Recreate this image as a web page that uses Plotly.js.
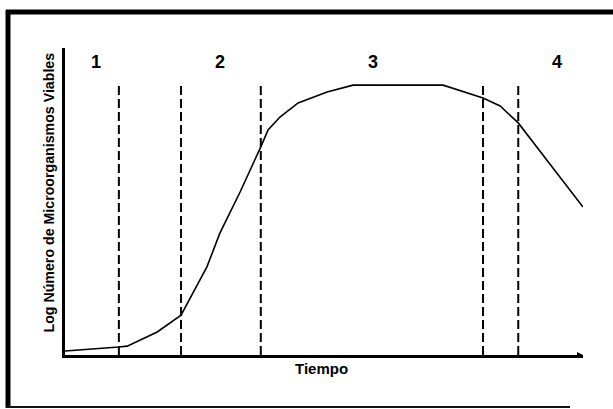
<!DOCTYPE html>
<html>
<head>
<meta charset="utf-8">
<script src="https://cdn.plot.ly/plotly-3.0.1.min.js"></script>
<style>html,body{margin:0;padding:0;background:#fff;}#chart{width:613px;height:409px;}</style>
</head>
<body>
<div id="chart"></div>
<script>
// Growth curve (arbitrary time / log count units)
const timeValues = [0, 0.68, 1.04, 1.20, 1.78, 2.24, 2.47, 2.74, 2.99, 3.38, 3.78, 3.92, 4.15, 4.50, 5.06, 5.56, 7.30, 8.07, 8.40, 8.75, 9.36, 10.0];
const logCounts  = [0.13, 0.20, 0.26, 0.29, 0.75, 1.30, 2.02, 2.87, 3.97, 5.31, 6.78, 7.33, 7.75, 8.21, 8.57, 8.79, 8.79, 8.37, 8.11, 7.56, 6.22, 4.82];
// Phase boundaries (dashed lines)
const phaseBounds = [1.04, 2.24, 3.78, 8.07, 8.75];
const boundTop = 8.76;
// Phase labels
const phaseLabels = ["1", "2", "3", "4"];
const phaseLabelX = [0.60, 2.99, 5.95, 9.50];
const phaseLabelY = 9.54;
const xTitle = "Tiempo";
const yTitle = "Log Número de Microorganismos Viables";

const FONT = "Arial, 'Liberation Sans', sans-serif";

const traces = [];
phaseBounds.forEach(b => {
  traces.push({x: [b, b], y: [0, boundTop], mode: 'lines', type: 'scatter',
    line: {color: '#000', width: 2, dash: '9px,4px'}, hoverinfo: 'skip', showlegend: false});
});
traces.push({x: timeValues, y: logCounts, mode: 'lines', type: 'scatter',
  line: {color: '#000', width: 1.6}, showlegend: false});

const annotations = phaseLabels.map((t, i) => ({
  x: phaseLabelX[i], y: phaseLabelY, xref: 'x', yref: 'y', text: '<b>' + t + '</b>',
  xanchor: 'center', yanchor: 'middle',
  showarrow: false, font: {family: FONT, size: 18, color: '#000'}
}));
annotations.push({x: (321 - 65) / 518, y: (355 - 368) / 307, xref: 'paper', yref: 'paper',
  xanchor: 'center', yanchor: 'middle',
  text: '<b>' + xTitle + '</b>', showarrow: false, font: {family: FONT, size: 15, color: '#000'}});
annotations.push({x: (48 - 65) / 518, y: (355 - 192.5) / 307, xref: 'paper', yref: 'paper',
  xanchor: 'center', yanchor: 'middle',
  text: '<b>' + yTitle + '</b>', textangle: -90, showarrow: false, font: {family: FONT, size: 14.2, color: '#000'}});
// small arrowhead at the end of the time axis
annotations.push({x: 1.0, y: 0, xref: 'paper', yref: 'paper', ax: -6, ay: 0, axref: 'pixel', ayref: 'pixel',
  text: '', showarrow: true, arrowhead: 2, arrowsize: 0.6, arrowwidth: 2, arrowcolor: '#000'});

const px = v => (v - 65) / 518;
const py = v => (355 - v) / 307;
const shapes = [
  {type: 'line', xref: 'paper', yref: 'paper', x0: px(8), x1: px(8), y0: py(10), y1: py(408), line: {color: '#000', width: 5}},
  {type: 'line', xref: 'paper', yref: 'paper', x0: px(6), x1: px(620), y0: py(12), y1: py(12), line: {color: '#000', width: 5}},
  {type: 'line', xref: 'paper', yref: 'paper', x0: px(6), x1: px(570), y0: py(407), y1: py(407), line: {color: '#111', width: 2}}
];

const layout = {
  width: 613, height: 409,
  margin: {l: 65, r: 30, t: 48, b: 54},
  paper_bgcolor: '#fff', plot_bgcolor: '#fff',
  xaxis: {range: [0, 10], showgrid: false, zeroline: false, showticklabels: false, ticks: '',
    showline: true, linecolor: '#000', linewidth: 3, fixedrange: true},
  yaxis: {range: [0, 10], showgrid: false, zeroline: false, showticklabels: false, ticks: '',
    showline: true, linecolor: '#000', linewidth: 3, fixedrange: true},
  annotations: annotations,
  shapes: shapes,
  showlegend: false
};

Plotly.newPlot('chart', traces, layout, {staticPlot: true, displayModeBar: false});
</script>
</body>
</html>
